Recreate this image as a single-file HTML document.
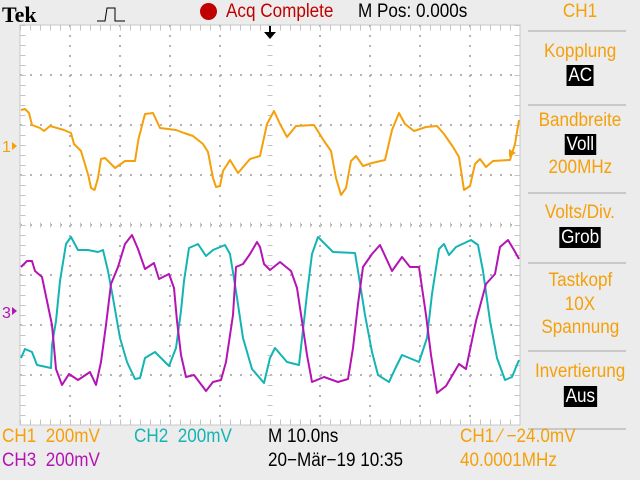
<!DOCTYPE html>
<html><head><meta charset="utf-8"><style>
html,body{margin:0;padding:0;background:#ececec;}
body{width:640px;height:480px;overflow:hidden;position:relative;font-family:"Liberation Sans",sans-serif;}
.t{position:absolute;font-size:19px;line-height:19px;white-space:nowrap;transform-origin:0 0;transform:scaleX(0.9);}
.o{color:#f5a00a}.c{color:#14b4b4}.m{color:#b414b4}.k{color:#000}.r{color:#c00000}
.rp{position:absolute;left:525px;width:110px;text-align:center;font-size:19px;line-height:19px;color:#f5a00a;}
.rp span{display:inline-block;transform:scaleX(0.9);}
.bx{display:inline-block;background:#000;color:#fff;padding:1px 2px;}
.sep{position:absolute;left:528px;width:98px;height:2px;background:#c8c8c8;}
</style></head><body>
<div style="position:absolute;left:2px;top:2px;font-family:'Liberation Serif',serif;font-weight:bold;font-size:22px;">Tek</div>
<svg style="position:absolute;left:95px;top:4px" width="45" height="20"><polyline points="2,17 10,17 12,4 20,4 20,17 30,17" fill="none" stroke="#000" stroke-width="1"/></svg>
<div style="position:absolute;left:200px;top:3px;width:17px;height:17px;border-radius:50%;background:#c00000"></div>
<div class="t r" style="left:226px;top:2px">Acq Complete</div>
<div class="t k" style="left:358px;top:2px">M Pos: 0.000s</div>
<svg style="position:absolute;left:0;top:0" width="640" height="480">
<rect x="20" y="25" width="500" height="400" fill="#fff" stroke="#c8c8c8" stroke-width="1"/>
<g stroke="#b4b4b4" stroke-width="2" stroke-dasharray="2,8">
<line x1="20" y1="75" x2="520" y2="75"/><line x1="20" y1="125" x2="520" y2="125"/><line x1="20" y1="175" x2="520" y2="175"/><line x1="20" y1="225" x2="520" y2="225"/><line x1="20" y1="275" x2="520" y2="275"/><line x1="20" y1="325" x2="520" y2="325"/><line x1="20" y1="375" x2="520" y2="375"/>
<line x1="70" y1="25" x2="70" y2="425"/><line x1="120" y1="25" x2="120" y2="425"/><line x1="170" y1="25" x2="170" y2="425"/><line x1="220" y1="25" x2="220" y2="425"/><line x1="320" y1="25" x2="320" y2="425"/><line x1="370" y1="25" x2="370" y2="425"/><line x1="420" y1="25" x2="420" y2="425"/><line x1="470" y1="25" x2="470" y2="425"/>
</g>
<g stroke="#c4c4c4" stroke-width="5" stroke-dasharray="1,9">
<line x1="20" y1="28" x2="520" y2="28"/>
<line x1="20" y1="422" x2="520" y2="422"/>
<line x1="23" y1="25" x2="23" y2="425"/>
<line x1="517" y1="25" x2="517" y2="425"/>
<line x1="270" y1="25" x2="270" y2="425"/>
<line x1="20" y1="225" x2="520" y2="225"/>
</g>
<polygon points="264,32 276,32 270,39" fill="#000"/><rect x="269" y="26" width="2" height="7" fill="#000"/>
<g fill="none" stroke-width="2" stroke-linejoin="round">
<polyline stroke="#f5a00a" points="21,110 25,109 29,113 32,125 40,128 44,131 50,126 64,130 71,133 74,144 81,151 84,161 88.5,176 91,188 94.6,190 98,178 101,159 105,158 115,168 125,161 135,161 138.5,139 145,114 153,113 160,128 176,130 184,133 193,136 203,144 208,152 213,178 216,187 220,186 223,171 230,160 238,173 250,159 260,156 267,124 274,111 280,124 287,137 296,126 314,125 324,141 331,151 336,178 341,195 346,188 351,161 356,156 363,166 372,163 385,160 392,130 399,113 405,124 414,131 426,127 437,126 444,134 453,147 459,157 464,190 470,186 475,164 480,159 486,167 493,161 510,160 515,144 519,120"/>
<polyline stroke="#14b4b4" points="21,358 25,349 32,352 37,365 51,368 52,345 56,321 60,281 66,244 71,237 78,250 88,250 98,252 103,250 108,271 113,298 120,338 127,362 135,379 140,378 145,358 155,352 169,366 176,348 181,311 184,281 189,248 198,244 206,256 213,250 225,245 230,254 236,291 243,338 252,369 264,383 270,358 275,348 287,362 299,365 304,321 307,294 312,254 318,237 333,252 355,253 358,271 365,315 372,352 378,375 389,382 395,369 402,355 419,362 427,338 432,294 439,249 444,244 449,255 456,247 471,240 478,245 483,271 490,321 497,358 505,380 512,377 519,360"/>
<polyline stroke="#b414b4" points="21,267 27,261 32,261 35,271 42,277 47,301 52,325 56,369 62,385 69,374 78,380 90,372 96,385 101,362 106,325 111,284 118,267 125,244 132,235 138,249 145,269 154,263 159,279 169,274 174,288 177,321 181,355 186,377 194,375 206,391 213,382 221,380 226,362 233,315 236,267 243,264 250,254 257,242 260,247 264,264 270,270 280,262 291,271 297,288 302,321 307,355 312,382 324,377 338,382 348,379 353,348 358,304 363,267 372,254 380,245 392,271 402,257 410,267 419,267 426,315 431,355 437,393 446,386 459,364 466,369 476,321 486,284 495,274 500,247 508,240 514,250 519,259"/>
</g>
<polygon points="509,149 516,153 509,157" fill="#f5a00a"/>
<text x="2" y="152" font-family="Liberation Sans" font-size="16" fill="#f5a00a">1</text><polygon points="12,142 17,146 12,150" fill="#f5a00a"/>
<text x="2" y="318" font-family="Liberation Sans" font-size="16" fill="#b414b4">3</text><polygon points="12,307 17,311 12,315" fill="#b414b4"/>
</svg>
<div class="rp" style="top:2px"><span>CH1</span></div>
<div class="sep" style="top:30px"></div>
<div class="rp" style="top:42px"><span>Kopplung</span></div>
<div class="rp" style="top:65px"><span class="bx">AC</span></div>
<div class="sep" style="top:104px"></div>
<div class="rp" style="top:111px"><span>Bandbreite</span></div>
<div class="rp" style="top:134px"><span class="bx">Voll</span></div>
<div class="rp" style="top:158px"><span>200MHz</span></div>
<div class="sep" style="top:192px"></div>
<div class="rp" style="top:203px"><span>Volts/Div.</span></div>
<div class="rp" style="top:227px"><span class="bx">Grob</span></div>
<div class="sep" style="top:262px"></div>
<div class="rp" style="top:271px"><span>Tastkopf</span></div>
<div class="rp" style="top:295px"><span>10X</span></div>
<div class="rp" style="top:318px"><span>Spannung</span></div>
<div class="sep" style="top:350px"></div>
<div class="rp" style="top:362px"><span>Invertierung</span></div>
<div class="rp" style="top:386px"><span class="bx">Aus</span></div>
<div class="sep" style="top:428px"></div>
<div class="t o" style="left:2px;top:427px">CH1&nbsp; 200mV</div>
<div class="t c" style="left:134px;top:427px">CH2&nbsp; 200mV</div>
<div class="t k" style="left:268px;top:427px">M 10.0ns</div>
<div class="t o" style="left:460px;top:427px">CH1 ⁄ −24.0mV</div>
<div class="t m" style="left:2px;top:451px">CH3&nbsp; 200mV</div>
<div class="t k" style="left:268px;top:451px">20−Mär−19 10:35</div>
<div class="t o" style="left:460px;top:451px">40.0001MHz</div>
</body></html>
